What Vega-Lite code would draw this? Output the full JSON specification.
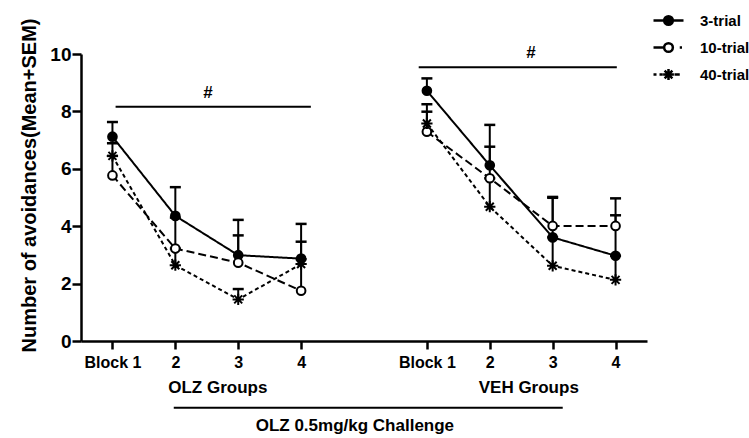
{
  "$schema": "https://vega.github.io/schema/vega-lite/v6.json",
  "width": 566,
  "height": 287,
  "autosize": {"type": "none"},
  "padding": {"left": 81, "top": 54, "right": 102, "bottom": 97},
  "background": "white",
  "config": {
    "view": {"stroke": null},
    "font": "Liberation Sans",
    "axis": {
      "grid": false,
      "domainColor": "black",
      "domainWidth": 2.5,
      "tickColor": "black",
      "tickWidth": 2.5,
      "labelColor": "black",
      "labelFont": "Liberation Sans",
      "labelFontWeight": "bold",
      "titleColor": "black",
      "titleFont": "Liberation Sans",
      "titleFontWeight": "bold"
    },
    "legend": {
      "orient": "none",
      "legendX": 571,
      "legendY": -50,
      "padding": 0,
      "rowPadding": 1,
      "symbolSize": 900,
      "symbolStrokeWidth": 2.5,
      "symbolStrokeColor": "black",
      "symbolOpacity": 1,
      "labelFont": "Liberation Sans",
      "labelFontWeight": "bold",
      "labelFontSize": 15,
      "labelColor": "black",
      "labelOffset": 15
    }
  },
  "datasets": {
    "main": [
      {"group": "OLZ", "block": 1, "series": "3-trial", "mean": 7.12, "upper": 7.63},
      {"group": "OLZ", "block": 2, "series": "3-trial", "mean": 4.36, "upper": 5.36},
      {"group": "OLZ", "block": 3, "series": "3-trial", "mean": 2.99, "upper": 4.22},
      {"group": "OLZ", "block": 4, "series": "3-trial", "mean": 2.87, "upper": 4.08},
      {"group": "OLZ", "block": 1, "series": "10-trial", "mean": 5.77, "upper": 6.45},
      {"group": "OLZ", "block": 2, "series": "10-trial", "mean": 3.22, "upper": 4.3},
      {"group": "OLZ", "block": 3, "series": "10-trial", "mean": 2.73, "upper": 3.68},
      {"group": "OLZ", "block": 4, "series": "10-trial", "mean": 1.75, "upper": 2.85},
      {"group": "OLZ", "block": 1, "series": "40-trial", "mean": 6.45, "upper": 6.89},
      {"group": "OLZ", "block": 2, "series": "40-trial", "mean": 2.64, "upper": 3.22},
      {"group": "OLZ", "block": 3, "series": "40-trial", "mean": 1.45, "upper": 1.81},
      {"group": "OLZ", "block": 4, "series": "40-trial", "mean": 2.68, "upper": 3.46},
      {"group": "VEH", "block": 6, "series": "3-trial", "mean": 8.72, "upper": 9.15},
      {"group": "VEH", "block": 7, "series": "3-trial", "mean": 6.12, "upper": 7.53},
      {"group": "VEH", "block": 8, "series": "3-trial", "mean": 3.61, "upper": 4.99},
      {"group": "VEH", "block": 9, "series": "3-trial", "mean": 2.97, "upper": 4.97},
      {"group": "VEH", "block": 6, "series": "10-trial", "mean": 7.29, "upper": 7.99},
      {"group": "VEH", "block": 7, "series": "10-trial", "mean": 5.67, "upper": 6.77},
      {"group": "VEH", "block": 8, "series": "10-trial", "mean": 4.01, "upper": 5.02},
      {"group": "VEH", "block": 9, "series": "10-trial", "mean": 4.01, "upper": 4.38},
      {"group": "VEH", "block": 6, "series": "40-trial", "mean": 7.58, "upper": 8.25},
      {"group": "VEH", "block": 7, "series": "40-trial", "mean": 4.68, "upper": 5.67},
      {"group": "VEH", "block": 8, "series": "40-trial", "mean": 2.62, "upper": 3.61},
      {"group": "VEH", "block": 9, "series": "40-trial", "mean": 2.13, "upper": 2.97}
    ],
    "lines": [
      {"x": 1.05, "x2": 4.155, "y": 8.16},
      {"x": 5.87, "x2": 9.02, "y": 9.54},
      {"x": 1.975, "x2": 8.16, "y": -2.33}
    ],
    "labels": [
      {"text": "#", "x": 2.52, "y": 8.64},
      {"text": "#", "x": 7.655, "y": 10.02},
      {"text": "OLZ Groups", "x": 2.675, "y": -1.64},
      {"text": "VEH Groups", "x": 7.62, "y": -1.64},
      {"text": "OLZ 0.5mg/kg Challenge", "x": 4.855, "y": -2.95}
    ]
  },
  "layer": [
    {
      "data": {"name": "main"},
      "mark": {"type": "line", "color": "black", "strokeWidth": 2},
      "encoding": {
        "x": {
          "field": "block", "type": "quantitative",
          "scale": {"domain": [0.5, 9.5], "nice": false, "zero": false},
          "title": null,
          "axis": {
            "values": [1, 2, 3, 4, 6, 7, 8, 9],
            "labelExpr": "datum.value == 1 || datum.value == 6 ? 'Block 1' : toString(datum.value > 5 ? datum.value - 5 : datum.value)",
            "labelFontSize": 16,
            "labelPadding": 5,
            "tickSize": 8,
            "labelFlush": false,
            "labelOverlap": false
          }
        },
        "y": {
          "field": "mean", "type": "quantitative",
          "scale": {"domain": [0, 10], "nice": false},
          "title": "Number of avoidances(Mean+SEM)",
          "axis": {
            "values": [0, 2, 4, 6, 8, 10],
            "labelFontSize": 19,
            "labelPadding": 1,
            "tickSize": 9,
            "titleFontSize": 20,
            "titleX": -46,
            "titleY": 131,
            "titleAngle": -90,
            "titleAlign": "center",
            "titleBaseline": "alphabetic"
          }
        },
        "strokeDash": {
          "field": "series", "type": "nominal",
          "scale": {"domain": ["3-trial", "10-trial", "40-trial"], "range": [[1, 0], [8, 4], [4, 3]]},
          "legend": null
        },
        "detail": {"field": "group"}
      }
    },
    {
      "data": {"name": "main"},
      "mark": {"type": "rule", "color": "black", "strokeWidth": 2},
      "encoding": {
        "x": {"field": "block", "type": "quantitative", "title": null},
        "y": {"field": "mean", "type": "quantitative", "title": "Number of avoidances(Mean+SEM)"},
        "y2": {"field": "upper"}
      }
    },
    {
      "data": {"name": "main"},
      "mark": {"type": "tick", "orient": "horizontal", "color": "black", "size": 11, "thickness": 2.5, "opacity": 1},
      "encoding": {
        "x": {"field": "block", "type": "quantitative", "title": null},
        "y": {"field": "upper", "type": "quantitative", "title": "Number of avoidances(Mean+SEM)"}
      }
    },
    {
      "data": {"name": "main"},
      "mark": {"type": "point", "filled": true, "stroke": "black", "strokeWidth": 2, "size": 75, "opacity": 1},
      "encoding": {
        "x": {"field": "block", "type": "quantitative", "title": null},
        "y": {"field": "mean", "type": "quantitative", "title": "Number of avoidances(Mean+SEM)"},
        "shape": {
          "field": "series", "type": "nominal",
          "scale": {"domain": ["3-trial", "10-trial", "40-trial"], "range": ["circle", "circle", "M0,-1.3L0,1.3M-1.3,0L1.3,0M-0.92,-0.92L0.92,0.92M-0.92,0.92L0.92,-0.92"]},
          "legend": null
        },
        "fill": {
          "field": "series", "type": "nominal",
          "scale": {"domain": ["3-trial", "10-trial", "40-trial"], "range": ["black", "white", "black"]},
          "legend": null
        }
      }
    },
    {
      "data": {"name": "main"},
      "transform": [{"filter": "false"}],
      "mark": {"type": "point", "filled": true, "strokeWidth": 2.5, "opacity": 1},
      "encoding": {
        "x": {"field": "block", "type": "quantitative", "title": null},
        "y": {"field": "mean", "type": "quantitative", "title": "Number of avoidances(Mean+SEM)"},
        "shape": {
          "field": "series", "type": "nominal", "title": null,
          "scale": {"domain": ["3-trial", "10-trial", "40-trial"], "range": [
            "M-1,0L1,0M0.29,0A0.29,0.29,0,1,1,-0.29,0A0.29,0.29,0,1,1,0.29,0Z",
            "M-1,0L-0.29,0M0.75,0L0.9,0M0.29,0A0.29,0.29,0,1,1,-0.29,0A0.29,0.29,0,1,1,0.29,0Z",
            "M-1,0L-0.8,0M-0.6,0L-0.38,0M0.4,0L0.75,0M0,-0.36L0,0.36M-0.36,0L0.36,0M-0.26,-0.26L0.26,0.26M-0.26,0.26L0.26,-0.26"
          ]}
        },
        "fill": {
          "field": "series", "type": "nominal", "title": null,
          "scale": {"domain": ["3-trial", "10-trial", "40-trial"], "range": ["black", "white", "black"]}
        },
        "stroke": {
          "field": "series", "type": "nominal", "title": null,
          "scale": {"domain": ["3-trial", "10-trial", "40-trial"], "range": ["black", "black", "black"]}
        }
      }
    },
    {
      "data": {"name": "lines"},
      "mark": {"type": "rule", "color": "black", "strokeWidth": 2},
      "encoding": {
        "x": {"field": "x", "type": "quantitative", "title": null},
        "x2": {"field": "x2"},
        "y": {"field": "y", "type": "quantitative", "title": "Number of avoidances(Mean+SEM)"}
      }
    },
    {
      "data": {"name": "labels"},
      "mark": {"type": "text", "font": "Liberation Sans", "fontWeight": "bold", "fontSize": 17, "color": "black", "baseline": "middle", "align": "center"},
      "encoding": {
        "x": {"field": "x", "type": "quantitative", "title": null},
        "y": {"field": "y", "type": "quantitative", "title": "Number of avoidances(Mean+SEM)"},
        "text": {"field": "text"}
      }
    }
  ],
  "resolve": {"scale": {"shape": "independent", "fill": "independent", "stroke": "independent"}}
}
